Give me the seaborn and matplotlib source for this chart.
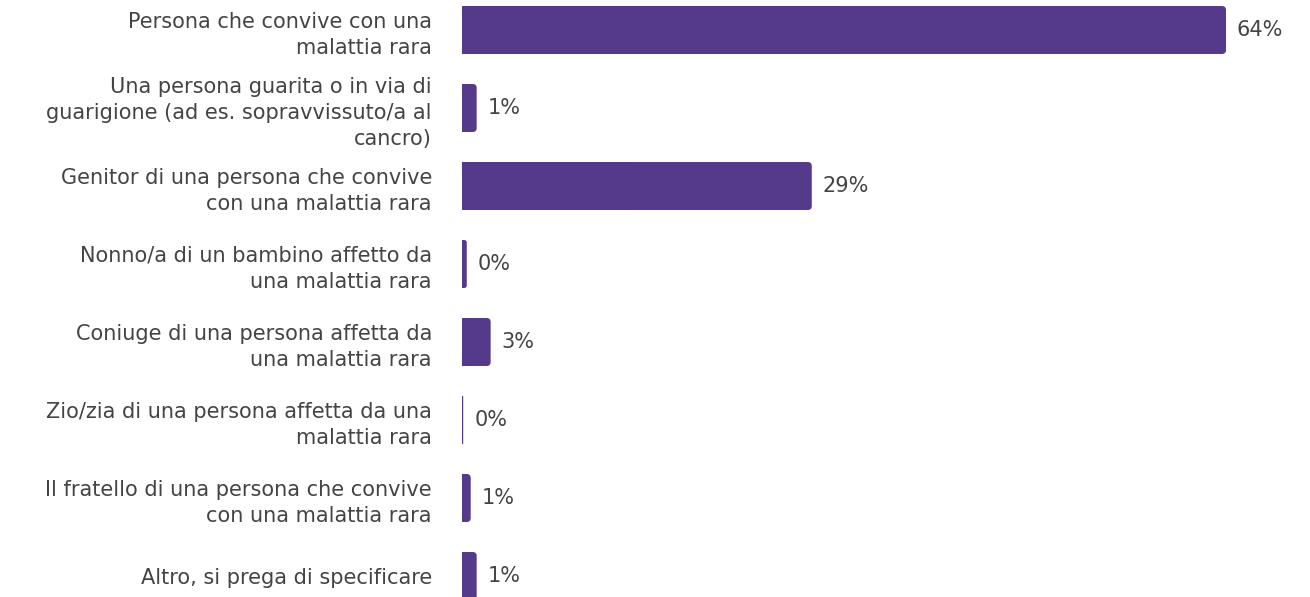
import numpy as np
import pandas as pd
import matplotlib
matplotlib.use("Agg")
import matplotlib.pyplot as plt
import seaborn as sns
from matplotlib.patches import FancyBboxPatch, Rectangle

# categories and values
categories = [
    "Persona che convive con una\nmalattia rara",
    "Una persona guarita o in via di\nguarigione (ad es. sopravvissuto/a al\ncancro)",
    "Genitor di una persona che convive\ncon una malattia rara",
    "Nonno/a di un bambino affetto da\nuna malattia rara",
    "Coniuge di una persona affetta da\nuna malattia rara",
    "Zio/zia di una persona affetta da una\nmalattia rara",
    "Il fratello di una persona che convive\ncon una malattia rara",
    "Altro, si prega di specificare",
]
values = [64.0, 1.23, 29.3, 0.4, 2.4, 0.1, 0.73, 1.23]
labels = ["64%", "1%", "29%", "0%", "3%", "0%", "1%", "1%"]

df = pd.DataFrame({"cat": categories, "val": values})

purple = "#55398B"
txt = "#444444"

sns.set_style("white")
plt.rcParams['font.family'] = ['DejaVu Sans']

fig = plt.figure(figsize=(13.1, 5.97), dpi=100)
ax = fig.add_axes([462 / 1310, -18 / 597, 764 / 1310, 624 / 597])

sns.barplot(data=df, x="val", y="cat", color=purple, width=0.615, ax=ax, saturation=1)
ax.set_xlim(0, 64)
ax.set_ylim(7.5, -0.5)

# rounded right corners
px_x = 764 / 64.0
px_y = 624 / 8.0
for p in list(ax.patches):
    x, y = p.get_x(), p.get_y()
    w, h = p.get_width(), p.get_height()
    p.set_visible(False)
    r = min(4 / px_x, w / 2)
    asp = (4 / px_y) / (4 / px_x)
    ax.add_patch(FancyBboxPatch((x, y), w, h, boxstyle=f"round,pad=0,rounding_size={r}",
                                mutation_aspect=asp, fc=purple, ec="none"))
    ax.add_patch(Rectangle((x, y), w / 2, h, fc=purple, ec="none"))

for i, (v, lab) in enumerate(zip(values, labels)):
    ax.annotate(lab, (v, i), xytext=(7.9, 0), textcoords="offset points",
                va="center", ha="left", fontsize=15, color=txt)

ax.set_xlabel("")
ax.set_ylabel("")
ax.set_xticks([])
ax.tick_params(axis="y", length=0, pad=21.6, labelsize=15, labelcolor=txt)
for lbl in ax.get_yticklabels():
    lbl.set_linespacing(1.36)
sns.despine(ax=ax, left=True, bottom=True)

fig.savefig("out.png", dpi=100)
